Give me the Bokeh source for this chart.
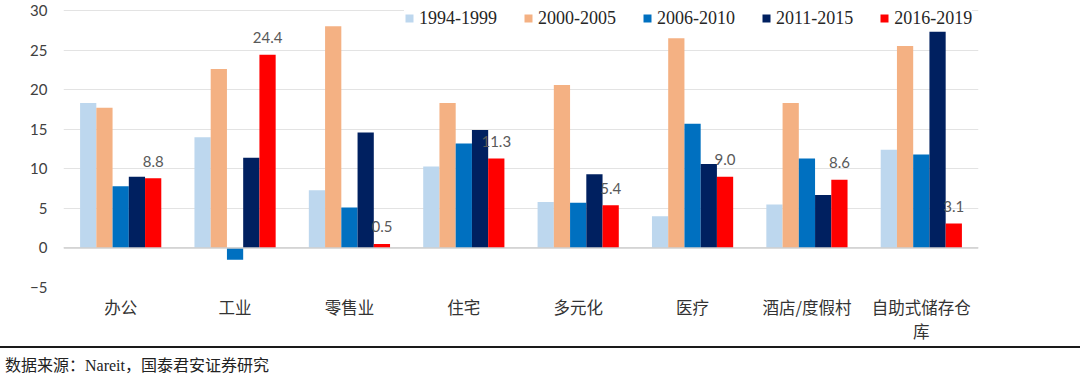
from bokeh.plotting import figure
from bokeh.models import (FactorRange, Range1d, FixedTicker, Span, Div, ColumnDataSource,
                          CategoricalAxis, CustomJSTickFormatter)
from bokeh.transform import dodge
from bokeh.layouts import column
from bokeh.core.properties import value
from bokeh.embed import file_html
from bokeh.resources import INLINE

categories = ["办公", "工业", "零售业", "住宅", "多元化", "医疗", "酒店/度假村", "自助式储存仓库"]
label_line1 = ["办公", "工业", "零售业", "住宅", "多元化", "医疗", "酒店/度假村", "自助式储存仓"]
label_line2 = ["", "", "", "", "", "", "", "库"]
periods = ["1994-1999", "2000-2005", "2006-2010", "2011-2015", "2016-2019"]
v1994_1999 = [18.3, 14.0, 7.3, 10.3, 5.8, 4.0, 5.5, 12.4]
v2000_2005 = [17.7, 22.6, 28.0, 18.3, 20.6, 26.5, 18.3, 25.5]
v2006_2010 = [7.8, -1.5, 5.1, 13.2, 5.7, 15.7, 11.3, 11.8]
v2011_2015 = [9.0, 11.4, 14.6, 14.9, 9.3, 10.6, 6.7, 27.3]
v2016_2019 = [8.8, 24.4, 0.5, 11.3, 5.4, 9.0, 8.6, 3.1]
y_ticks = [-5, 0, 5, 10, 15, 20, 25, 30]
colors = ["#BDD7EE", "#F4B183", "#0070C0", "#002060", "#FF0000"]
source_note = "数据来源：Nareit，国泰君安证券研究"

series = [v1994_1999, v2000_2005, v2006_2010, v2011_2015, v2016_2019]
data = {"cat": categories}
for name, vals in zip(periods, series):
    data[name] = vals
data["lbl"] = ["%.1f" % v for v in v2016_2019]
src = ColumnDataSource(data)

FIG_W, FIG_H = 1080, 346
# frame spans y 0..287 px; keep tick 30 at 10 px below the frame top
y_min, y_max = y_ticks[0], y_ticks[-1]
y_top = y_max + 10 * (y_max - y_min) / 277.0

p = figure(x_range=FactorRange(*categories, range_padding=0), y_range=Range1d(y_min, y_top),
           width=FIG_W, height=FIG_H, output_backend="svg", toolbar_location=None,
           min_border_left=63, min_border_right=102, min_border_top=0, min_border_bottom=59)
p.outline_line_color = None
p.background_fill_color = "white"
p.border_fill_color = "white"

bar_w = 0.142
offsets = [(i - 2) * bar_w for i in range(5)]

for name, col, off in zip(periods, colors, offsets):
    p.vbar(x=dodge("cat", off, range=p.x_range), top=name, width=bar_w, source=src,
           fill_color=col, line_color=None, legend_label=name)

p.text(x=dodge("cat", offsets[4], range=p.x_range), y="2016-2019", text="lbl", source=src,
       text_font=value("Lato"), text_font_size="15px", text_color="#595959",
       text_align="center", text_baseline="middle", y_offset=-17)

p.add_layout(Span(location=0, dimension="width", line_color="#cfcfcf", line_width=1.5))

p.yaxis.ticker = FixedTicker(ticks=y_ticks)
p.ygrid.ticker = FixedTicker(ticks=y_ticks)
p.ygrid.grid_line_color = "#e3e3e3"
p.ygrid.grid_line_width = 1
p.xgrid.grid_line_color = None

p.yaxis.axis_line_color = None
p.yaxis.major_tick_line_color = None
p.yaxis.minor_tick_line_color = None
p.yaxis.major_tick_out = 0
p.yaxis.major_label_standoff = 16
p.yaxis.major_label_text_font = "Lato"
p.yaxis.major_label_text_font_size = "15px"
p.yaxis.major_label_text_color = "#404040"


def style_xaxis(ax, standoff, labels):
    ax.axis_line_color = None
    ax.major_tick_line_color = None
    ax.minor_tick_line_color = None
    ax.major_tick_out = 0
    ax.major_tick_in = 0
    ax.major_label_standoff = standoff
    ax.major_label_text_font = "Noto Sans CJK SC"
    ax.major_label_text_font_size = "16.5px"
    ax.major_label_text_color = "#333333"
    ax.formatter = CustomJSTickFormatter(
        args=dict(cats=categories, labs=labels),
        code="const i = cats.indexOf(tick); return i >= 0 ? labs[i] : tick;")


ax1 = p.xaxis[0]
style_xaxis(ax1, 7, label_line1)

ax2 = CategoricalAxis()
style_xaxis(ax2, -3, label_line2)
p.add_layout(ax2, "below")

lg = p.legend[0]
lg.orientation = "horizontal"
lg.location = (341, 257)
lg.glyph_width = 10
lg.glyph_height = 10
lg.label_height = 24
lg.label_standoff = 5
lg.spacing = 26
lg.padding = 1
lg.margin = 0
lg.border_line_color = None
lg.background_fill_color = "white"
lg.background_fill_alpha = 1
lg.label_text_font = "Liberation Serif"
lg.label_text_font_size = "18px"
lg.label_text_color = "#262626"

note = Div(text=source_note, width=FIG_W, height=30, margin=(0, 0, 0, 0),
           styles={"border-top": "2px solid #1a1a1a",
                   "font-family": "'Liberation Serif', 'Noto Sans CJK SC'",
                   "font-size": "16px", "color": "#222222",
                   "padding-top": "7px", "padding-left": "5px"})

layout = column(p, note, spacing=0)
open("out.html", "w").write(file_html(layout, INLINE))
